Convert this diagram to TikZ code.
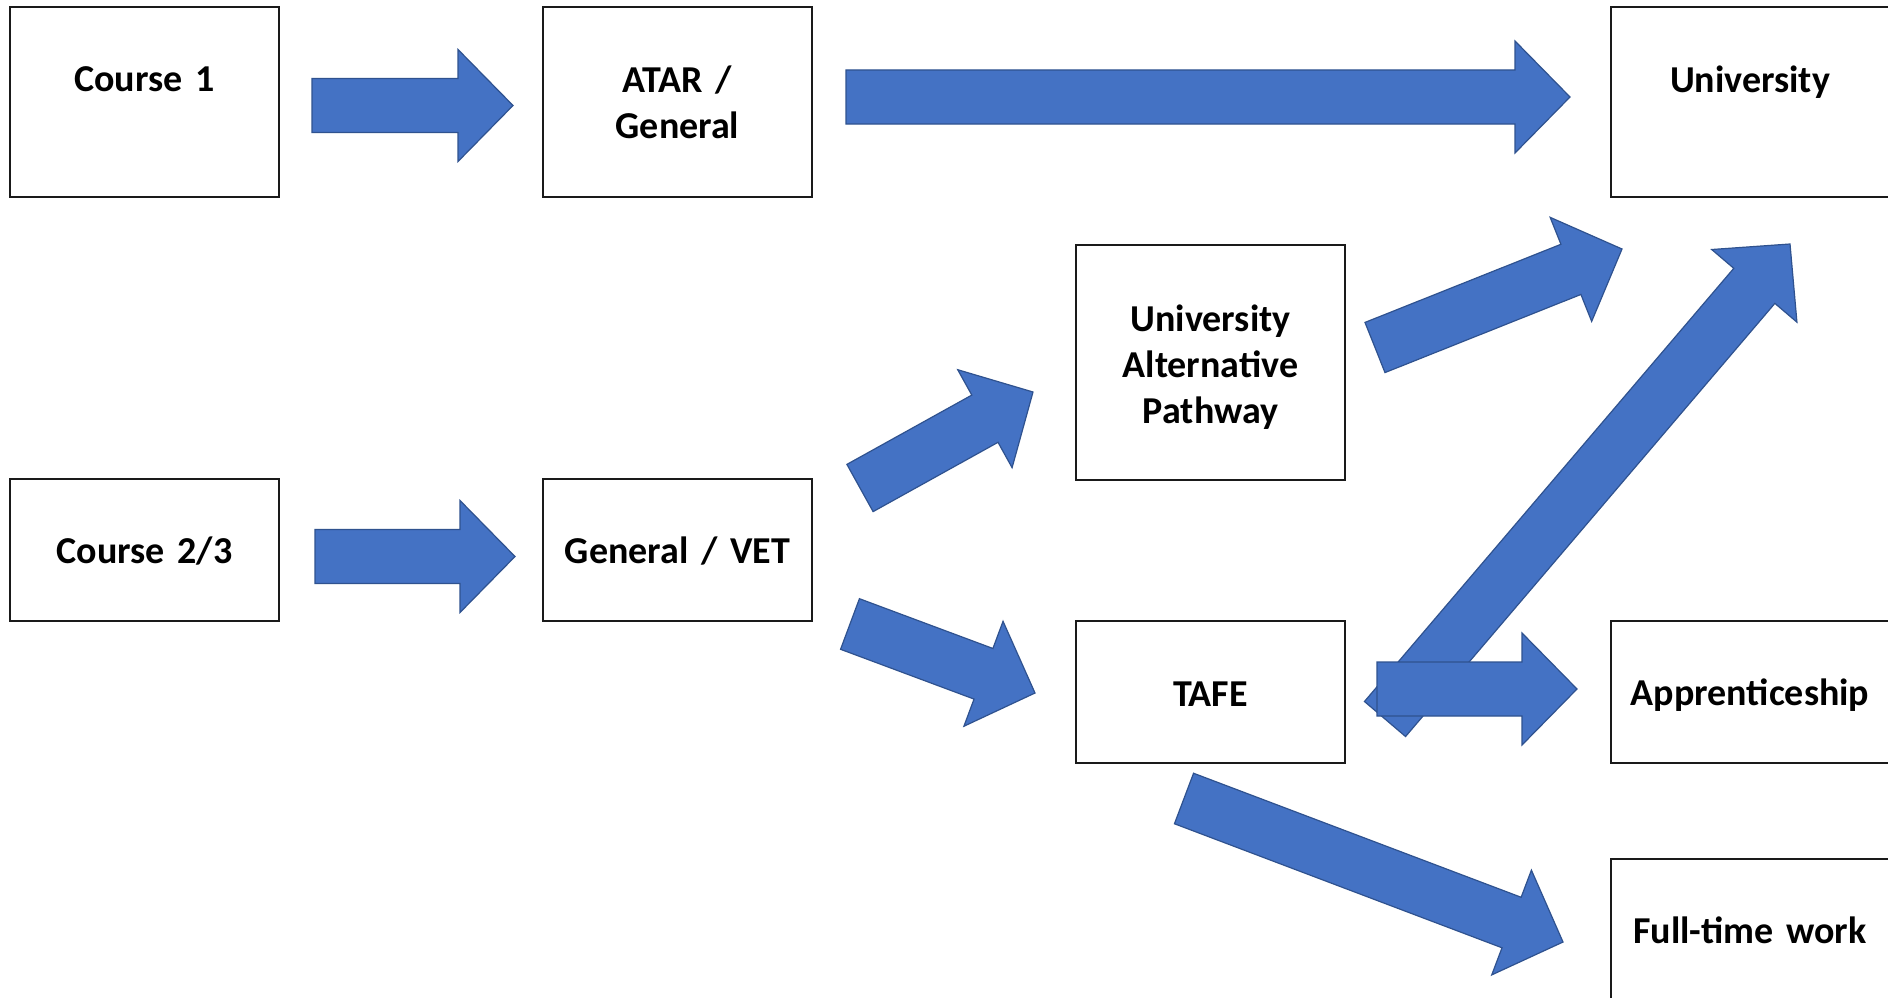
\documentclass[tikz,border=0pt]{standalone}
\usepackage{fontspec}
\setmainfont{Carlito}
\usetikzlibrary{calc}
\definecolor{arrowfill}{HTML}{4472C4}
\definecolor{arrowline}{HTML}{2F528F}
\definecolor{boxline}{HTML}{1A1A1A}
% block arrow from tail coordinate #1 to tip coordinate #2
\newcommand\blockarrow[2]{%
  \path ($(#2)!55pt!(#1)$) coordinate (ab);
  \filldraw[barrow] ($(#1)!27pt!90:(#2)$) -- ($(ab)!27pt!-90:(#1)$) -- ($(ab)!56pt!-90:(#1)$)
    -- (#2) -- ($(ab)!56pt!90:(#1)$) -- ($(ab)!27pt!90:(#1)$) -- ($(#1)!27pt!-90:(#2)$) -- cycle;}
\begin{document}
\begin{tikzpicture}[x=1pt,y=-1pt,
  box/.style={draw=boxline, line width=2pt, fill=white, inner sep=0pt, align=center,
    text width=262pt, font=\fontsize{38}{46}\selectfont\bfseries},
  barrow/.style={fill=arrowfill, draw=arrowline, line width=1.2pt, line join=miter}]
\useasboundingbox (0,0) rectangle (1888,998);
\fill[white] (0,0) rectangle (1888,998);
\clip (0,0) rectangle (1888,998);

% boxes
\node[box, minimum width=269pt, minimum height=190pt] (c1)   at (144.5,102) {Course 1\\\mbox{}};
\node[box, minimum width=269pt, minimum height=190pt] (atar) at (677.5,102) {ATAR /\\General};
\node[box, minimum width=278pt, minimum height=190pt] (uni)  at (1750,102)  {University\\\mbox{}};
\node[box, minimum width=269pt, minimum height=235pt, text depth=89pt] (uap) at (1210.5,362.5) {University\\Alternative\\Pathway};
\node[box, minimum width=269pt, minimum height=142pt, text depth=0pt] (c23) at (144.5,550) {Course 2/3};
\node[box, minimum width=269pt, minimum height=142pt, text depth=0pt] (gv)  at (677.5,550) {General / VET};
\node[box, minimum width=269pt, minimum height=142pt, text height=29pt, text depth=0pt] (tafe) at (1210.5,692) {TAFE};
\node[box, minimum width=278pt, minimum height=142pt, text depth=0pt] (app) at (1750,692)  {Apprenticeship};
\node[box, minimum width=278pt, minimum height=142pt] (ftw)  at (1750,930)  {Full-time work};

% arrow end points
\coordinate (a1s) at (312,105.5);  \coordinate (a1e) at (513,105.5);
\coordinate (a2s) at (846,97);     \coordinate (a2e) at (1570,97);
\coordinate (a3s) at (315,556.5);  \coordinate (a3e) at (515,556.5);
\coordinate (a4s) at (860,488);    \coordinate (a4e) at (1033,392);
\coordinate (a5s) at (850,624);    \coordinate (a5e) at (1035,693);
\coordinate (a6s) at (1375,347.5); \coordinate (a6e) at (1622,249);
\coordinate (a7s) at (1385,719);   \coordinate (a7e) at (1790,244);
\coordinate (a8s) at (1377,689);   \coordinate (a8e) at (1577,689);
\coordinate (a9s) at (1184,798.5); \coordinate (a9e) at (1563,942);

% arrows
\blockarrow{a1s}{a1e}
\blockarrow{a2s}{a2e}
\blockarrow{a3s}{a3e}
\blockarrow{a4s}{a4e}
\blockarrow{a5s}{a5e}
\blockarrow{a6s}{a6e}
\blockarrow{a7s}{a7e}
\blockarrow{a8s}{a8e}
\blockarrow{a9s}{a9e}
\end{tikzpicture}
\end{document}
